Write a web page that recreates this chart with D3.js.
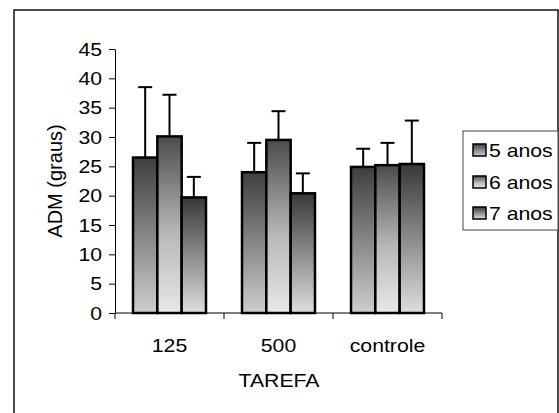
<!DOCTYPE html>
<html>
<head>
<meta charset="utf-8">
<script src="https://cdn.jsdelivr.net/npm/d3@7"></script>
<style>
  body { margin: 0; background: #fff; }
  text { font-family: "Liberation Sans", Arial, sans-serif; fill: #000; }
</style>
</head>
<body>
<div id="chart"></div>
<script>
// Data
let categories = ["125", "500", "controle"];
let series = ["5 anos", "6 anos", "7 anos"];
let means = [
    [26.5, 24.0, 24.9],   // 5 anos
    [30.1, 29.5, 25.2],   // 6 anos
    [19.7, 20.4, 25.4]    // 7 anos
];
let errors = [
    [12.0, 5.0, 3.1],
    [7.1, 4.9, 3.8],
    [3.5, 3.4, 7.4]
];
let yTicks = [0, 5, 10, 15, 20, 25, 30, 35, 40, 45];

let W = 559, H = 413;
let SX = 1.18; // the picture is a bit stretched sideways
let fontSize = 18;

let svg = d3.select("#chart").append("svg")
    .attr("width", W)
    .attr("height", H);

// gradients, dark at the top of each bar
let grads = [
    [["0%", "#3e3e3e"], ["100%", "#cecece"]],
    [["0%", "#4c4c4c"], ["55%", "#b8b8b8"], ["100%", "#e8e8e8"]],
    [["0%", "#383838"], ["100%", "#dedede"]]
];
let defs = svg.append("defs");
grads.forEach((stops, i) => {
    let g = defs.append("linearGradient")
        .attr("id", "grad" + i)
        .attr("x1", 0).attr("y1", 0).attr("x2", 0).attr("y2", 1);
    stops.forEach(s => g.append("stop").attr("offset", s[0]).attr("stop-color", s[1]));
});

// outer frame
svg.append("rect")
    .attr("x", 14).attr("y", 10)
    .attr("width", 544).attr("height", 420)
    .attr("fill", "none")
    .attr("stroke", "#111")
    .attr("stroke-width", 1.5);

let x0 = d3.scaleBand()
    .domain(categories)
    .range([115, 442])
    .padding(0);

let x1 = d3.scaleBand()
    .domain(series)
    .range([0, x0.bandwidth()])
    .paddingInner(0)
    .paddingOuter(0.74);

let y = d3.scaleLinear()
    .domain([0, 45])
    .range([313, 49]);

function stretchedText(sel, x, yy, anchor, str, size) {
    return sel.append("text")
        .attr("transform", `translate(${x},${yy}) scale(${SX},1)`)
        .attr("text-anchor", anchor)
        .style("font-size", (size || fontSize) + "px")
        .text(str);
}

// y axis
let yAxis = svg.append("g")
    .attr("transform", "translate(115,0)")
    .call(d3.axisLeft(y).tickValues(yTicks).tickSize(6).tickSizeOuter(0));
yAxis.selectAll("path, line").attr("stroke", "#000");
yAxis.selectAll("text")
    .attr("x", 0)
    .attr("dy", "0.35em")
    .attr("transform", `translate(-13,0) scale(${SX},1)`)
    .style("font-size", fontSize + "px")
    .style("font-family", "Liberation Sans, Arial, sans-serif")
    .attr("fill", "#000");

// x axis
svg.append("line")
    .attr("x1", x0.range()[0]).attr("x2", x0.range()[1])
    .attr("y1", y(0)).attr("y2", y(0))
    .attr("stroke", "#000");
let bounds = categories.map(c => x0(c)).concat([x0.range()[1]]);
svg.selectAll(".xtick")
    .data(bounds)
    .enter().append("line")
    .attr("class", "xtick")
    .attr("x1", d => d).attr("x2", d => d)
    .attr("y1", y(0)).attr("y2", y(0) + 6)
    .attr("stroke", "#000");

categories.forEach(c => {
    stretchedText(svg, x0(c) + x0.bandwidth() / 2, 352, "middle", c);
});

// axis titles
stretchedText(svg, 279, 387, "middle", "TAREFA");
svg.append("text")
    .attr("transform", "translate(62,181) rotate(-90)")
    .attr("text-anchor", "middle")
    .style("font-size", "20px")
    .text("ADM (graus)");

// bars
let groups = svg.selectAll(".group")
    .data(categories)
    .enter().append("g")
    .attr("class", "group")
    .attr("transform", d => `translate(${x0(d)},0)`);

series.forEach((s, si) => {
    // error bars (upward only)
    groups.append("line")
        .attr("x1", (d, ci) => x1(s) + x1.bandwidth() / 2)
        .attr("x2", (d, ci) => x1(s) + x1.bandwidth() / 2)
        .attr("y1", (d, ci) => y(means[si][ci]))
        .attr("y2", (d, ci) => y(means[si][ci] + errors[si][ci]))
        .attr("stroke", "#000")
        .attr("stroke-width", 2);
    groups.append("line")
        .attr("x1", (d, ci) => x1(s) + x1.bandwidth() / 2 - 7)
        .attr("x2", (d, ci) => x1(s) + x1.bandwidth() / 2 + 7)
        .attr("y1", (d, ci) => y(means[si][ci] + errors[si][ci]))
        .attr("y2", (d, ci) => y(means[si][ci] + errors[si][ci]))
        .attr("stroke", "#000")
        .attr("stroke-width", 2);

    groups.append("rect")
        .attr("x", x1(s))
        .attr("width", x1.bandwidth())
        .attr("y", (d, ci) => y(means[si][ci]))
        .attr("height", (d, ci) => y(0) - y(means[si][ci]))
        .attr("fill", `url(#grad${si})`)
        .attr("stroke", "#000")
        .attr("stroke-width", 2.5);
});

// legend
let legend = svg.append("g");
legend.append("rect")
    .attr("x", 463).attr("y", 131)
    .attr("width", 95).attr("height", 99)
    .attr("fill", "#fff")
    .attr("stroke", "#444")
    .attr("stroke-width", 1);

let legendY = [150, 182, 213];
series.forEach((s, i) => {
    legend.append("rect")
        .attr("x", 473).attr("y", legendY[i] - 6)
        .attr("width", 13).attr("height", 12)
        .attr("fill", `url(#grad${i})`)
        .attr("stroke", "#000")
        .attr("stroke-width", 1.5);
    stretchedText(legend, 489, legendY[i] + 6.5, "start", s);
});
</script>
</body>
</html>
